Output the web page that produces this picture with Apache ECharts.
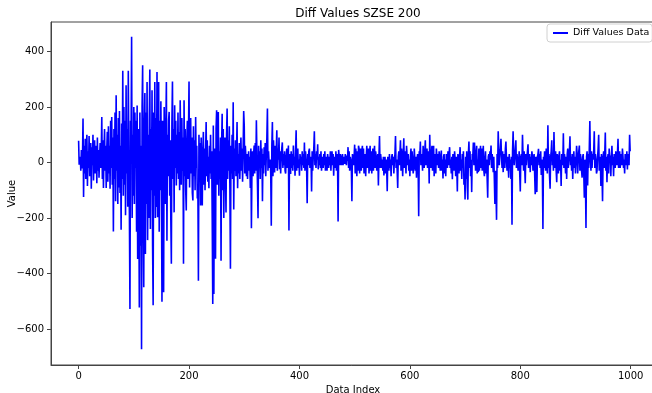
<!DOCTYPE html>
<html>
<head>
<meta charset="utf-8">
<title>Diff Values SZSE 200</title>
<script src="https://cdn.jsdelivr.net/npm/echarts@6/dist/echarts.min.js"></script>
<style>
  html, body { margin: 0; padding: 0; background: #fff; }
  #myChart { width: 652px; height: 393px; }
</style>
</head>
<body>
<div id="myChart"></div>
<script>
  // 刻度
  let xTicks = [0, 200, 400, 600, 800, 1000]
  let yTicks = [-600, -400, -200, 0, 200, 400]
  let seriesName = 'Diff Values Data'

  // 差分值, 按图读出 (index 0 - 999)
  let diffValues = [
    78, -8, -15, 20, -30, 45, -22, 10, 158, -125,
    60, -40, 85, -60, 30, 100, -85, 40, -20, 95,
    -50, 15, 70, -95, 55, -10, 100, -65, 25, 80,
    -40, 10, 60, -75, 90, -30, 45, -55, 20, 70,
    -20, 35, 164, -60, 80, -92, 40, 120, -30, 60,
    -92, 45, 110, -70, 130, -40, 60, -95, 150, -20,
    164, -80, 90, -249, 120, -60, 180, -140, 242, -30,
    100, -150, 160, -90, 185, -110, 60, -243, 140, -60,
    330, -120, 200, -80, 150, -190, 278, -40, 120, -160,
    330, 20, -180, -528, 150, 60, 453, -200, 100, -120,
    200, -150, 180, -20, 150, -250, 205, -348, 120, -100,
    -523, 180, -300, 60, -673, 200, 350, -200, -450, 120,
    250, -330, 180, -150, 290, -280, 100, -200, 150, 335,
    -240, 120, -100, 260, -300, -515, 180, -120, 290, -200,
    160, -161, 326, -198, 80, 290, -250, 150, -100, 220,
    -80, -502, 150, -100, -468, 200, 50, -150, 120, 290,
    -282, 100, -50, 150, 182, -120, 80, -200, -365, 140,
    292, -60, 120, -180, 206, -20, 150, -83, 100, -40,
    180, -60, 110, -100, 224, 40, -80, 160, -30, 90,
    -365, 224, -50, 120, -100, -173, 80, 150, -60, 100,
    292, -90, 60, 160, -40, 90, -110, -137, 130, -50,
    80, -100, 164, -20, 60, -130, -80, -426, 100, -40,
    70, -155, 90, -60, -155, 40, 110, -80, 50, -100,
    30, 146, -50, 80, -70, 20, -93, 60, -40, 100,
    -60, 40, -200, -510, 133, -474, 50, -100, -347, 120,
    188, -80, 60, 182, -120, 40, -60, 90, -354, 60,
    175, -100, 120, -200, 40, 90, -50, -180, 100, 194,
    -60, 80, -30, 130, -90, -383, 60, -40, 100, -60,
    217, -170, 50, -30, 80, -50, 40, 146, -93, 30,
    -40, 70, -60, 20, 90, -30, 50, -70, 40, 185,
    133, -40, 60, 20, -50, 30, -60, 10, 40, -30,
    20, -92, 50, -237, -20, 40, -50, 30, 61, -40,
    70, -30, 152, 20, -80, -201, 60, -20, 40, -60,
    80, -20, 50, -140, 30, -40, 55, -10, 70, -50,
    30, 90, 194, -30, 40, 0, -20, 10, -40, -228,
    60, 146, -50, 80, 20, -36, 60, -20, 40, 116,
    -30, 50, 10, 90, -25, 40, -40, 20, 50, 72,
    -20, 30, -10, 40, -30, -40, 20, 50, -20, 10,
    61, -245, 30, -10, -42, 40, -20, 30, -30, 61,
    -10, 20, -48, 40, 116, -30, 20, 50, -20, 10,
    -48, 30, 10, 20, -30, 40, -10, 30, -20, 72,
    -30, 40, 10, -20, -147, 30, -10, 40, 50, -20,
    10, 20, -105, 40, -30, 20, 50, 112, -10, 30,
    -20, 40, 10, 65, -25, 20, -10, 30, -20, 40,
    -30, 10, 20, -20, 30, -10, 40, -30, 10, 20,
    -30, 30, 10, -20, 20, -10, 40, -30, 20, 40,
    -10, 30, -48, 20, 10, -20, 40, -30, 30, 10,
    -213, 45, 20, -10, 30, 10, -10, 20, 30, -10,
    20, 10, -5, 30, 15, -10, 25, 5, 55, -20,
    40, -30, 20, 10, -20, -140, 30, 10, -10, 20,
    64, -40, 50, 10, -50, 40, -30, 60, 50, -40,
    10, 50, -30, 40, 60, -20, 50, -40, 10, 30,
    -50, 20, 60, -20, 10, 50, -40, 20, 60, -30,
    40, -40, 10, 50, -30, 20, 60, -20, 40, 20,
    -30, 10, 30, -83, 20, 95, -20, 30, 10, -20,
    10, -30, 20, -47, 10, 20, -40, 10, -20, -104,
    20, 10, -30, 30, -20, 10, -50, 20, 30, -10,
    20, -40, 10, 30, 95, -20, 10, -30, -92, 20,
    40, -10, 30, 80, -30, 50, 10, -50, 30, 87,
    -20, 40, 10, -40, 60, 20, -10, 30, -30, 10,
    -50, 20, 50, -30, 40, 10, -40, -20, 50, 10,
    -30, 20, -55, 10, 30, -20, -194, 40, 20, 75,
    -10, 30, 20, -30, 60, 10, -20, 40, 80, -10,
    30, 50, -20, 20, 40, -76, 100, 10, -20, 30,
    60, -30, 20, 60, -50, 30, 10, -40, 50, 20,
    -10, 30, -20, 40, 10, -30, 20, 43, -30, 10,
    -58, 20, 30, -40, 10, -50, 30, 20, -20, 40,
    -10, 30, 55, -20, 10, -40, 20, -61, 30, 10,
    -30, 40, 10, -50, 20, -20, -105, 30, 10, -40,
    20, 55, -30, 10, -60, 30, -20, 40, -80, -50,
    -134, 20, -60, 40, -90, -134, 30, 75, -20, 40,
    -50, 10, -107, 30, 20, 72, -10, 72, 30, -30,
    20, 60, -40, 10, -35, 50, -30, 20, 60, -20,
    50, -30, 20, 60, -30, -50, 10, 40, -40, 10,
    -60, -127, 20, 30, -10, 40, 10, 61, -20, 30,
    10, -35, 20, -60, -150, -30, -100, -207, 30, -20,
    112, 40, -10, 30, 50, 85, 20, -20, 40, -35,
    10, 30, -20, 50, 75, 10, -30, 20, -10, -55,
    30, -20, 10, -60, 20, -225, 40, 112, 30, -10,
    20, 50, 80, -20, 30, 10, -30, 0, 40, -40,
    -105, 20, 30, -10, 100, 20, -30, 40, -20, -75,
    30, -10, 20, 40, 65, -20, 10, 30, -35, 20,
    -10, 40, 20, -30, 10, 30, -40, -115, 20, 10,
    -107, 20, 30, 49, -10, 30, -20, 40, -45, 10,
    -30, -240, 20, -20, 40, 13, -30, 50, 20, -40,
    134, -20, 30, -50, -95, 20, 40, 80, -10, 30,
    -30, 110, 20, -20, 40, -30, -71, 30, 10, -40,
    20, 40, -30, 10, -85, 30, 20, -10, 105, -20,
    30, 10, -40, 20, -60, 30, 50, -20, 10, 40,
    94, -10, 20, -30, 30, -60, 10, 40, -20, 20,
    -40, 10, 60, 30, -40, 10, 40, 61, -30, 30,
    10, -30, -55, 20, 30, -40, -127, 10, -60, -236,
    20, 40, -83, 30, -20, 50, 149, 10, -30, 40,
    -20, 30, 10, 40, 112, -20, 30, 10, -40, -30,
    20, 50, 100, -30, 20, 10, -85, 30, -40, -140,
    20, 40, -20, 30, 108, -30, 20, -71, 10, 30,
    -40, 50, 10, 25, -50, 20, 60, -10, 20, -50,
    30, 10, -20, 40, 20, -10, 30, 85, -20, 10,
    40, -20, 20, 30, -10, 50, 20, -20, 10, -40,
    30, 20, -10, 40, -25, 30, 20, -10, 100, 40
  ]

  let fontName = 'DejaVu Sans'
  // matplotlib 用的是 unicode 减号
  let fmtMinus = function (v) { return String(v).replace('-', '\u2212') }

  let myChart = echarts.init(document.getElementById('myChart'))
  myChart.setOption({
    animation: false,
    textStyle: {fontFamily: fontName},
    title: {
      text: 'Diff Values SZSE 200',
      left: 353,
      textAlign: 'center',
      top: 3,
      textStyle: {fontSize: 12, fontWeight: 'normal', color: '#000', fontFamily: fontName}
    },
    legend: {
      data: [seriesName],
      left: 547,
      top: 24,
      padding: [4, 3, 4, 6],
      itemWidth: 15,
      itemHeight: 2,
      itemGap: 0,
      icon: 'rect',
      backgroundColor: '#fff',
      borderColor: '#d0d0d0',
      borderWidth: 1,
      borderRadius: 3,
      textStyle: {fontSize: 9.5, color: '#000', fontFamily: fontName}
    },
    grid: {
      left: 51,
      right: -3,
      top: 22,
      bottom: 28,
      outerBoundsMode: 'none',
      containLabel: false,
      show: true,
      borderColor: '#444',
      borderWidth: 1
    },
    xAxis: {
      type: 'value',
      min: -50,
      max: 1044,
      name: 'Data Index',
      nameLocation: 'middle',
      nameGap: 20,
      nameMoveOverlap: false,
      nameTextStyle: {fontSize: 10, color: '#000', fontFamily: fontName},
      axisLine: {onZero: false, lineStyle: {color: '#444', width: 1}},
      axisTick: {show: true, length: 4, lineStyle: {color: '#444'}, customValues: xTicks},
      axisLabel: {
        customValues: xTicks,
        color: '#000',
        fontSize: 10,
        margin: 6,
        formatter: fmtMinus
      },
      splitLine: {show: false}
    },
    yAxis: {
      type: 'value',
      min: -730,
      max: 506,
      name: 'Value',
      nameLocation: 'middle',
      nameRotate: 90,
      nameGap: 39,
      nameMoveOverlap: false,
      nameTextStyle: {fontSize: 10, color: '#000', fontFamily: fontName, verticalAlign: 'middle'},
      axisLine: {show: true, onZero: false, lineStyle: {color: '#444', width: 1}},
      axisTick: {show: true, length: 4, lineStyle: {color: '#444'}, customValues: yTicks},
      axisLabel: {
        customValues: yTicks,
        color: '#000',
        fontSize: 10,
        margin: 7,
        formatter: fmtMinus
      },
      splitLine: {show: false}
    },
    series: [
      {
        name: seriesName,
        type: 'line',
        data: diffValues.map(function (v, i) { return [i, v] }),
        symbol: 'none',
        color: '#0000ff',
        lineStyle: {color: '#0000ff', width: 1.6},
        z: 2
      }
    ]
  })
</script>
</body>
</html>
